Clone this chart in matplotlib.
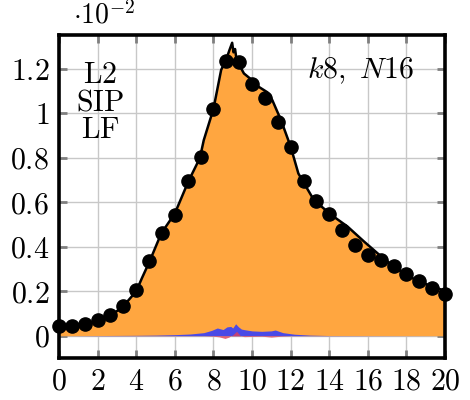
import numpy as np
import matplotlib
matplotlib.use("Agg")
import matplotlib.pyplot as plt

plt.rcParams['mathtext.fontset'] = 'cm'
plt.rcParams['font.family'] = 'serif'

# values in units of 1e-2
dot_x = np.linspace(0, 20, 31)
dot_y = [0.045, 0.045, 0.055, 0.069, 0.093, 0.132, 0.204, 0.336, 0.461, 0.545,
         0.694, 0.803, 1.019, 1.237, 1.230, 1.131, 1.071, 0.960, 0.851, 0.697,
         0.608, 0.550, 0.476, 0.409, 0.364, 0.342, 0.312, 0.279, 0.247, 0.214, 0.189]

line_x = [0, 0.7, 1.4, 2.0, 2.7, 3.3, 4.0, 4.3, 4.7, 5.3, 6.0, 6.7, 7.3, 7.5, 8.0,
          8.4, 8.65, 8.83, 8.97, 9.04, 9.12, 9.2, 9.58, 10.0, 10.2, 10.8, 11.05,
          11.3, 11.5, 12.0, 12.4, 13.2, 14.1, 14.95, 15.8, 16.7, 17.55, 18.4,
          19.3, 19.9, 20.0]
line_y = [0.045, 0.047, 0.055, 0.068, 0.092, 0.13, 0.20, 0.26, 0.336, 0.461, 0.55,
          0.694, 0.80, 0.88, 1.02, 1.196, 1.24, 1.285, 1.318, 1.275, 1.29, 1.24,
          1.18, 1.15, 1.128, 1.095, 1.06, 1.01, 0.97, 0.851, 0.73, 0.611, 0.544,
          0.491, 0.424, 0.356, 0.297, 0.255, 0.222, 0.205, 0.2]

blue_x = [0, 4.0, 5.0, 6.0, 6.8, 7.5, 7.9, 8.2, 8.5, 8.7, 8.9, 9.0, 9.15, 9.3,
          9.45, 9.7, 10.0, 10.5, 11.0, 11.2, 11.6, 12.2, 13.0, 14.0, 20]
blue_y = [0, 0.002, 0.003, 0.005, 0.008, 0.014, 0.024, 0.035, 0.028, 0.04, 0.042,
          0.035, 0.054, 0.04, 0.03, 0.026, 0.022, 0.02, 0.022, 0.026, 0.014, 0.007,
          0.003, 0.001, 0]

red_x = [0, 7.5, 8.0, 8.3, 8.6, 8.8, 9.0, 9.2, 9.4, 9.6, 10.0, 10.5, 11.0, 11.5, 12, 20]
red_y = [0, 0, -0.002, -0.005, -0.012, -0.006, 0.004, 0.02, 0.0, -0.004, -0.003,
         -0.002, -0.006, -0.002, 0, 0]

xticks = np.arange(0, 21, 2)
yticks = [0, 0.2, 0.4, 0.6, 0.8, 1.0, 1.2]
ylabels = ['0', '0.2', '0.4', '0.6', '0.8', '1', '1.2']

fig = plt.figure(figsize=(4.7, 4.0), dpi=100)
ax = fig.add_axes([0.1255, 0.105, 0.8215, 0.8075])

ax.fill_between(line_x, 0, line_y, color='#ffa640', lw=0, zorder=1)
ax.fill_between(blue_x, 0, blue_y, color='#4a4ae6', lw=0, zorder=2)
ax.fill_between(red_x, 0, red_y, color='#e0405a', lw=0, alpha=0.8, zorder=3)
ax.plot(line_x, line_y, color='black', lw=1.8, zorder=4)
ax.plot(dot_x, dot_y, 'o', color='black', ms=9.5, zorder=5, clip_on=False)

ax.set_xlim(0, 20)
ax.set_ylim(-0.1, 1.353)
ax.set_xticks(xticks)
ax.set_xticklabels(['$%d$' % v for v in xticks], fontsize=21.5)
ax.set_yticks(yticks)
ax.set_yticklabels(['$%s$' % s for s in ylabels], fontsize=21.5)
ax.set_axisbelow(True)
ax.grid(True, color='#c8c8c8', lw=1)
ax.tick_params(direction='in', length=5.5, width=2, color='#7f7f7f',
               top=True, right=True, pad=7)
for s in ax.spines.values():
    s.set_linewidth(2.6)
    s.set_zorder(6)

ax.text(0.107, 0.918, '$\\mathrm{L2}$\n$\\mathrm{SIP}$\n$\\mathrm{LF}$', transform=ax.transAxes,
        ha='center', va='top', fontsize=21.5, linespacing=0.97)
ax.text(0.78, 0.888, '$k8,\\ N16$', transform=ax.transAxes,
        ha='center', va='center', fontsize=21.5)
fig.text(0.155, 0.962, '$\\cdot 10^{-2}$', ha='left', va='center', fontsize=20)

fig.savefig('out.png', dpi=100)
